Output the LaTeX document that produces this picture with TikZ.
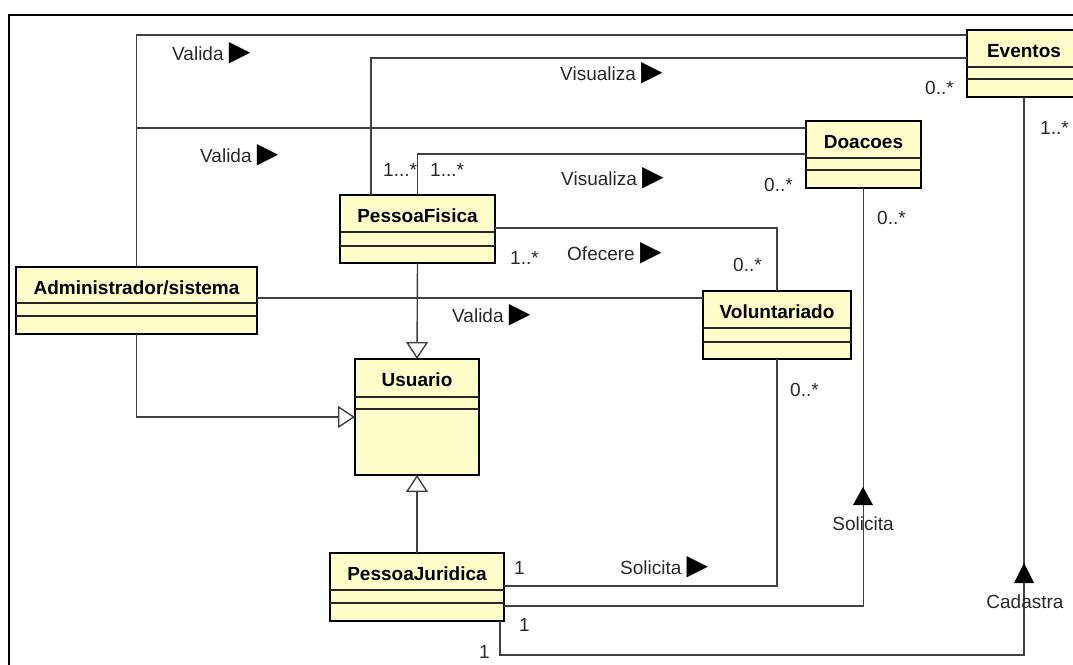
\documentclass[tikz,border=0pt]{standalone}
\usepackage{fontspec}
\setmainfont{Liberation Sans}
\newfontfamily\symfont{DejaVu Sans}
\usetikzlibrary{arrows.meta,calc}
\definecolor{classfill}{RGB}{255,255,204}
\definecolor{wirecol}{RGB}{64,64,64}
\definecolor{labelgray}{RGB}{40,40,40}
% class compartments: node, offset of first and second divider from the top
\newcommand\umlcomps[3]{%
  \draw[comp] ($(#1.north west)+(0,#2)$) -- ($(#1.north east)+(0,#2)$);
  \draw[comp] ($(#1.north west)+(0,#3)$) -- ($(#1.north east)+(0,#3)$);}
\newcommand\rtri{{\color{black}\symfont\fontsize{28}{28}\selectfont ▶}}
\begin{document}
\begin{tikzpicture}[x=1pt,y=-1pt,
  cls/.style={draw=black, line width=2.6pt, fill=classfill, inner sep=0pt, outer sep=0pt,
    anchor=north west, font=\fontsize{19}{22}\selectfont\bfseries, text height=27pt},
  comp/.style={draw=black!85, line width=1.3pt},
  wire/.style={draw=wirecol, line width=1.4pt},
  gen/.style={wire, -{Triangle[open, length=17pt, width=22pt, fill=white]}},
  lbl/.style={font=\fontsize{19}{22}\selectfont, text=labelgray, inner sep=0pt, anchor=west},
  clbl/.style={lbl, anchor=center},
  dirtri/.style={fill=black}]
\useasboundingbox (0,0) rectangle (1073,664);
\clip (0,0) rectangle (1073,664);
\fill[white] (0,0) rectangle (1073,664);
% outer frame
\draw[line width=2pt, black] (8.5,15) rectangle (1100,700);

% classes
\node[cls, minimum width=114pt, minimum height=67pt, text depth=40pt] (ev) at (967,30) {Eventos};
\umlcomps{ev}{37}{49}
\node[cls, minimum width=115pt, minimum height=67pt, text depth=40pt] (do) at (806,121) {Doacoes};
\umlcomps{do}{37}{49}
\node[cls, minimum width=155pt, minimum height=68pt, text depth=41pt] (pf) at (340,195) {PessoaFisica};
\umlcomps{pf}{37}{51}
\node[cls, minimum width=241pt, minimum height=67pt, text depth=40pt] (adm) at (16,267) {Administrador/sistema};
\umlcomps{adm}{36}{49}
\node[cls, minimum width=148pt, minimum height=68pt, text depth=41pt] (vol) at (703,291) {Voluntariado};
\umlcomps{vol}{37}{51}
\node[cls, minimum width=124pt, minimum height=116pt, text depth=89pt] (us) at (355,359) {Usuario};
\umlcomps{us}{38}{50}
\node[cls, minimum width=174pt, minimum height=68pt, text depth=41pt] (pj) at (330,553) {PessoaJuridica};
\umlcomps{pj}{37}{50}

% associations
\draw[wire] (adm.north) |- ($(ev.north west)+(0,5)$);
\draw[wire] (adm.north) |- ($(do.north west)+(0,7)$);
\draw[wire] ($(pf.north west)+(31,0)$) |- ($(ev.north west)+(0,28)$);
\draw[wire] (pf.north) |- ($(do.north west)+(0,33)$);
\draw[wire] ($(pf.north east)+(0,33)$) -| (vol.north);
\draw[wire] ($(adm.north east)+(0,31)$) -- ($(vol.north west)+(0,7)$);
\draw[wire] ($(pj.north east)+(0,33)$) -| (vol.south);
\draw[wire] ($(pj.north east)+(0,53)$) -| (do.south);
\draw[wire] ($(pj.south east)+(-4,0)$) -- ++(0,34) -| (ev.south);

% generalizations
\draw[gen] (pf.south) -- (us.north);
\draw[gen] (adm.south) |- (us.west);
\draw[gen] (pj.north) -- (us.south);

% reading-direction markers on vertical associations
\fill[dirtri] (853,505) -- (873,505) -- (863,487) -- cycle;
\fill[dirtri] (1014,583) -- (1034,583) -- (1024,563) -- cycle;

% association names
\node[lbl] (l1) at (172,53) {Valida \rtri};
\node[lbl] (l2) at (200,155) {Valida \rtri};
\node[lbl] (l3) at (560,73) {Visualiza \rtri};
\node[lbl] (l4) at (561,178) {Visualiza \rtri};
\node[lbl] (l5) at (567,253) {Ofecere \rtri};
\node[lbl] (l6) at (452,315) {Valida \rtri};
\node[lbl] (l7) at (620,567) {Solicita \rtri};
\node[clbl] (l8) at (863,524) {Solicita};
\node[clbl] (l9) at (1025,602) {Cadastra};

% multiplicities
\node[lbl] (m1) at (383,170) {1...*};
\node[lbl] (m2) at (430,170) {1...*};
\node[lbl] (m3) at (764,185) {0..*};
\node[lbl] (m4) at (925,88) {0..*};
\node[lbl] (m5) at (1040,128) {1..*};
\node[lbl] (m6) at (877,218) {0..*};
\node[lbl] (m7) at (510,258) {1..*};
\node[lbl] (m8) at (733,265) {0..*};
\node[lbl] (m9) at (790,390) {0..*};
\node[lbl] (m10) at (514,568) {1};
\node[lbl] (m11) at (519,625) {1};
\node[lbl] (m12) at (479,652) {1};
\end{tikzpicture}
\end{document}
